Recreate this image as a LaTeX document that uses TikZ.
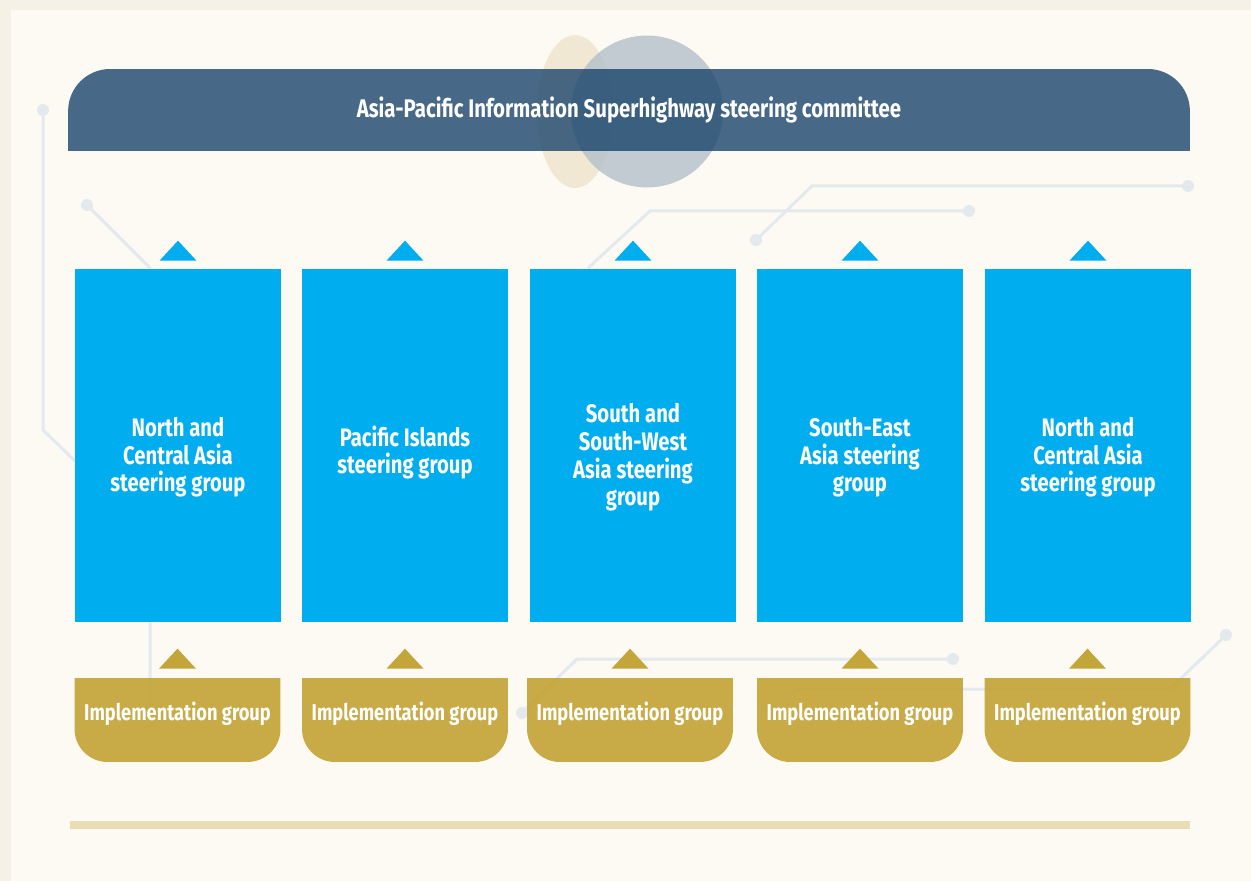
\documentclass[tikz,border=0pt]{standalone}
\usepackage{fontspec}
\setmainfont{Fira Sans}[FakeStretch=0.8]
\usetikzlibrary{calc}

\definecolor{outerbg}{HTML}{F5F1E6}
\definecolor{innerbg}{HTML}{FDFAF4}
\definecolor{traceline}{HTML}{E4E9ED}
\definecolor{sgblue}{HTML}{00ADEE}
\definecolor{implgold}{HTML}{C4A53A}
\definecolor{rulebar}{HTML}{EADDB5}
\definecolor{beigeblob}{HTML}{F1E8D4}
\definecolor{greyblob}{HTML}{AEBCC6}
\definecolor{headblue}{HTML}{154169}

\begin{document}
\begin{tikzpicture}[x=0.02cm, y=-0.02cm,
  trace/.style={traceline, line width=0.06cm},
  tracedot/.style={fill=traceline},
  sgbox/.style={fill=sgblue, inner sep=0pt, minimum width=4.12cm, minimum height=7.06cm},
  sgtext/.style={text=white, align=center, inner sep=0pt, yshift=-0.24cm,
    font=\bfseries\fontsize{14.4}{15.7}\selectfont},
  implbox/.style={inner sep=0pt, minimum width=4.12cm, minimum height=1.68cm,
    path picture={\fill[implgold, fill opacity=0.93] (path picture bounding box.north west)
      -- (path picture bounding box.north east)
      -- ([yshift=0.66cm]path picture bounding box.south east) arc[start angle=0, end angle=-90, radius=0.66cm]
      -- ([xshift=0.66cm]path picture bounding box.south west) arc[start angle=270, end angle=180, radius=0.66cm]
      -- cycle;}},
  impltext/.style={text=white, inner sep=0pt, yshift=0.13cm,
    font=\bfseries\fontsize{13}{15}\selectfont},
  headbox/.style={text=white, inner sep=0pt, minimum width=22.44cm, minimum height=1.64cm,
    font=\bfseries\fontsize{14.5}{16}\selectfont,
    path picture={\fill[headblue, fill opacity=0.78] (path picture bounding box.south west)
      -- ([yshift=-0.84cm]path picture bounding box.north west) arc[start angle=180, end angle=90, radius=0.84cm]
      -- ([xshift=-0.84cm]path picture bounding box.north east) arc[start angle=90, end angle=0, radius=0.84cm]
      -- (path picture bounding box.south east) -- cycle;}},
  bluetri/.style={fill=sgblue},
  goldtri/.style={fill=implgold}]

\fill[outerbg] (0,0) rectangle (1251,881); % outer frame
\fill[innerbg] (11,10) rectangle (1251,881); % page
\useasboundingbox (0,0) rectangle (1251,881);

% circuit traces behind the boxes
\draw[trace] (43,110) -- (43,430) -- (76,462); % left trace
\fill[tracedot] (43,110) circle [radius=0.12cm];
\draw[trace] (87,205) -- (150,268) -- (150,704) -- (144,711); % trace through first column
\fill[tracedot] (87,205) circle [radius=0.12cm];
\draw[trace] (588,268) -- (650,211) -- (969,211); % middle upper trace
\fill[tracedot] (969,211) circle [radius=0.12cm];
\draw[trace] (756,240) -- (812,186) -- (1188,186); % right upper trace
\fill[tracedot] (756,240) circle [radius=0.12cm];
\fill[tracedot] (1188,186) circle [radius=0.12cm];
\draw[trace] (522,713) -- (577,659) -- (953,659); % lower trace
\fill[tracedot] (522,713) circle [radius=0.12cm];
\fill[tracedot] (953,659) circle [radius=0.12cm];
\draw[trace] (795,689) -- (1170,689) -- (1226,635); % lower right trace
\fill[tracedot] (1226,635) circle [radius=0.12cm];

% blobs behind the committee bar
\fill[beigeblob] (575,111.5) ellipse [x radius=0.76cm, y radius=1.53cm];
\fill[greyblob, fill opacity=0.75] (647,111.5) circle [radius=1.52cm];

\node[headbox] (apisc) at (629,110) {Asia-Pacific Information Superhighway steering committee};

% steering groups
\node[sgbox, label={[sgtext, name=sg1t]center:{North and\\Central Asia\\steering group}}] (sg1) at (178,445.5) {};
\node[sgbox, label={[sgtext, yshift=0.1cm, name=sg2t]center:{Pacific Islands\\steering group}}] (sg2) at (405,445.5) {};
\node[sgbox, label={[sgtext, name=sg3t]center:{South and\\South-West\\Asia steering\\group}}] (sg3) at (633,445.5) {};
\node[sgbox, label={[sgtext, name=sg4t]center:{South-East\\Asia steering\\group}}] (sg4) at (860,445.5) {};
\node[sgbox, label={[sgtext, name=sg5t]center:{North and\\Central Asia\\steering group}}] (sg5) at (1088,445.5) {};

% implementation groups
\node[implbox, label={[impltext, name=ig1t]center:Implementation group}] (ig1) at (177.5,720) {};
\node[implbox, label={[impltext, name=ig2t]center:Implementation group}] (ig2) at (405,720) {};
\node[implbox, label={[impltext, name=ig3t]center:Implementation group}] (ig3) at (630,720) {};
\node[implbox, label={[impltext, name=ig4t]center:Implementation group}] (ig4) at (860,720) {};
\node[implbox, label={[impltext, name=ig5t]center:Implementation group}] (ig5) at (1087.5,720) {};

% arrow heads pointing up
\fill[bluetri] ($(sg1.north)+(-18.5,-8)$) -- ++(37,0) -- ++(-18.5,-20) -- cycle;
\fill[bluetri] ($(sg2.north)+(-18.5,-8)$) -- ++(37,0) -- ++(-18.5,-20) -- cycle;
\fill[bluetri] ($(sg3.north)+(-18.5,-8)$) -- ++(37,0) -- ++(-18.5,-20) -- cycle;
\fill[bluetri] ($(sg4.north)+(-18.5,-8)$) -- ++(37,0) -- ++(-18.5,-20) -- cycle;
\fill[bluetri] ($(sg5.north)+(-18.5,-8)$) -- ++(37,0) -- ++(-18.5,-20) -- cycle;
\fill[goldtri] ($(ig1.north)+(-18.5,-9)$) -- ++(37,0) -- ++(-18.5,-20) -- cycle;
\fill[goldtri] ($(ig2.north)+(-18.5,-9)$) -- ++(37,0) -- ++(-18.5,-20) -- cycle;
\fill[goldtri] ($(ig3.north)+(-18.5,-9)$) -- ++(37,0) -- ++(-18.5,-20) -- cycle;
\fill[goldtri] ($(ig4.north)+(-18.5,-9)$) -- ++(37,0) -- ++(-18.5,-20) -- cycle;
\fill[goldtri] ($(ig5.north)+(-18.5,-9)$) -- ++(37,0) -- ++(-18.5,-20) -- cycle;

\fill[rulebar] (70,821) rectangle (1190,829); % bottom rule

\end{tikzpicture}
\end{document}
